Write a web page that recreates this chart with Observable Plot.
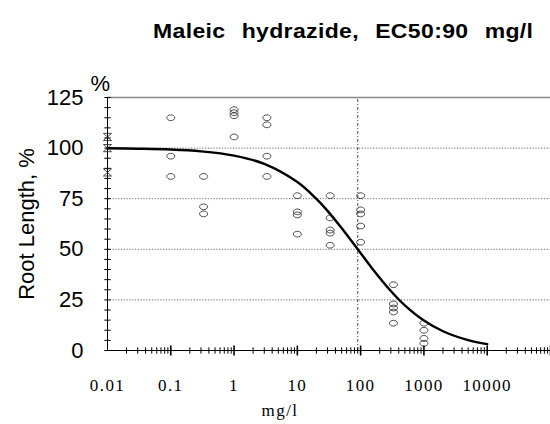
<!DOCTYPE html>
<html><head><meta charset="utf-8">
<script src="https://cdn.jsdelivr.net/npm/d3@7"></script>
<script src="https://cdn.jsdelivr.net/npm/@observablehq/plot@0.6"></script>
<style>
body{margin:0;background:#fff;}
#title{height:58px;box-sizing:border-box;padding-top:21px;padding-right:17px;text-align:right;
font:bold 19.5px "Liberation Sans",Arial,sans-serif;line-height:20px;letter-spacing:0.3px;word-spacing:8px;color:#000;white-space:nowrap;}
#title span{display:inline-block;transform:scaleX(1.18);transform-origin:right center;}
#chart svg{display:block;overflow:visible;}
</style></head><body>
<div id="title"><span id="titleText"></span></div>
<div id="chart"></div>
<script>
// ---- data ----
const titleText = "Maleic hydrazide, EC50:90 mg/l";
const controlConc = 0.01;
const controlValues = [105.5, 100, 88];
const pointConc = [0.1,0.1,0.1, 0.33,0.33,0.33, 1,1,1,1, 3.3,3.3,3.3,3.3, 10,10,10,10,
  33,33,33,33,33, 100,100,100,100,100, 330,330,330,330,330, 1000,1000,1000,1000];
const pointValues = [115,96,86, 86,71,67.5, 119,117.5,116,105.5, 115,111.5,96,86, 76.5,68.5,67,57.5,
  76.5,65.5,59.5,58,52, 76.5,69.5,67.5,61.5,53.5, 32.5,23,21,19,13.5, 13.5,10,6,3.5];
const curveConc = [0.01,0.03,0.1,0.3,1,3,10,20,30,50,90,150,300,500,1000,2000,5000,10000];
const curveValues = [99.9,99.7,99.3,98.4,96.3,92.2,83.2,74.9,69,60.5,50,40.8,29.4,22.3,14.8,9.5,5.1,3.15];
const ec50 = 90;
const xTickValues = [0.01,0.1,1,10,100,1000,10000];
const xTickLabels = ["0.01","0.1","1","10","100","1000","10000"];
const yTickValues = [0,25,50,75,100,125];
const yTickLabels = ["0","25","50","75","100","125"];
const yGridValues = [25,50,75,100];
const xAxisLabel = "mg/l";
const yAxisLabel = "Root Length, %";
const yUnitLabel = "%";

document.getElementById("titleText").textContent = titleText;

// ---- symbols ----
const ellipse = {draw(ctx, size){ const r=Math.sqrt(size/Math.PI), rx=r, ry=r*0.72, k=0.5523;
  ctx.moveTo(rx,0); ctx.bezierCurveTo(rx,ry*k,rx*k,ry,0,ry); ctx.bezierCurveTo(-rx*k,ry,-rx,ry*k,-rx,0);
  ctx.bezierCurveTo(-rx,-ry*k,-rx*k,-ry,0,-ry); ctx.bezierCurveTo(rx*k,-ry,rx,-ry*k,rx,0); ctx.closePath(); }};
const hourglass = {draw(ctx, size){ const r=Math.sqrt(size/Math.PI), w=r*0.9, h=r*0.8;
  ctx.moveTo(-w,-h); ctx.lineTo(w,-h); ctx.lineTo(-w,h); ctx.lineTo(w,h); ctx.closePath(); }};
const vtick = {draw(ctx, size){ const r=Math.sqrt(size/Math.PI); ctx.moveTo(0,-r); ctx.lineTo(0,r); }};
const htick = {draw(ctx, size){ const r=Math.sqrt(size/Math.PI); ctx.moveTo(-r,0); ctx.lineTo(r,0); }};

const xDomain = [0.01, 100000];
const allLogTicks = d3.scaleLog().domain(xDomain).ticks();
const decades = allLogTicks.filter(v => Math.abs(Math.log10(v) - Math.round(Math.log10(v))) < 1e-9 && v > 0.01);
const minors = allLogTicks.filter(v => !decades.includes(v) && v > 0.01);
const yMinor = d3.range(0, 126, 5);

const points = pointConc.map((c,i) => ({c, v: pointValues[i]}));
const controls = controlValues.map(v => ({c: controlConc, v}));
const curve = curveConc.map((c,i) => ({c, v: curveValues[i]}));

const sans = "Liberation Sans, Arial, sans-serif";
const serif = "Liberation Serif";

const chart = Plot.plot({
  width: 550, height: 366,
  marginLeft: 107, marginRight: 0, marginTop: 39, marginBottom: 74,
  x: {type: "log", domain: xDomain, axis: null},
  y: {domain: [0, 125], axis: null},
  marks: [
    Plot.ruleY(yGridValues, {stroke: "#666", strokeWidth: 1, strokeDasharray: "1.2,1.6"}),
    Plot.ruleY([125], {stroke: "#888", strokeWidth: 1.6}),
    Plot.ruleX([ec50], {y1: 0, y2: 125, stroke: "#333", strokeWidth: 0.9, strokeDasharray: "3,2,1,2"}),
    Plot.ruleX([controlConc], {y1: 0, y2: 125, stroke: "#000", strokeWidth: 1}),
    Plot.ruleY([0], {stroke: "#000", strokeWidth: 1}),
    Plot.dot(yMinor, {x: () => controlConc, y: d => d, symbol: htick, r: 3.2, stroke: "#000", strokeWidth: 1, fill: "none"}),
    Plot.dot(minors, {x: d => d, y: () => 0, symbol: vtick, r: 3.2, stroke: "#000", strokeWidth: 1, fill: "none"}),
    Plot.dot(decades, {x: d => d, y: () => 0, symbol: vtick, r: 5, stroke: "#000", strokeWidth: 1.6, fill: "none"}),
    Plot.line(curve, {x: "c", y: "v", curve: "catmull-rom", stroke: "#000", strokeWidth: 2.4}),
    Plot.dot(points, {x: "c", y: "v", symbol: ellipse, r: 4, stroke: "#222", strokeWidth: 0.8, fill: "none"}),
    Plot.dot(controls, {x: "c", y: "v", symbol: hourglass, r: 4.5, stroke: "#222", strokeWidth: 0.8, fill: "none"}),
    Plot.text(yTickValues, {y: d => d, text: (d,i) => yTickLabels[i], frameAnchor: "left", dx: -24, textAnchor: "end",
      fontFamily: sans, fontSize: 22, fill: "#000"}),
    Plot.text(xTickValues, {x: d => d, text: (d,i) => xTickLabels[i], frameAnchor: "bottom", lineAnchor: "bottom", dy: 40,
      fontFamily: serif, fontSize: 17, fill: "#000"}),
    Plot.text([xAxisLabel], {frameAnchor: "bottom", lineAnchor: "bottom", dx: -49, dy: 65,
      fontFamily: serif, fontSize: 17, fill: "#000"}),
    Plot.text([yAxisLabel], {frameAnchor: "left", rotate: -90, dx: -81, textAnchor: "middle",
      fontFamily: sans, fontSize: 22, fill: "#000"}),
    Plot.text([yUnitLabel], {frameAnchor: "top-left", dx: -17, dy: -22,
      fontFamily: sans, fontSize: 22, fill: "#000"})
  ]
});
d3.select(chart).selectAll('g[font-family="Liberation Serif"]').attr("letter-spacing", "1.4px");
document.getElementById("chart").appendChild(chart);
</script>
</body></html>
